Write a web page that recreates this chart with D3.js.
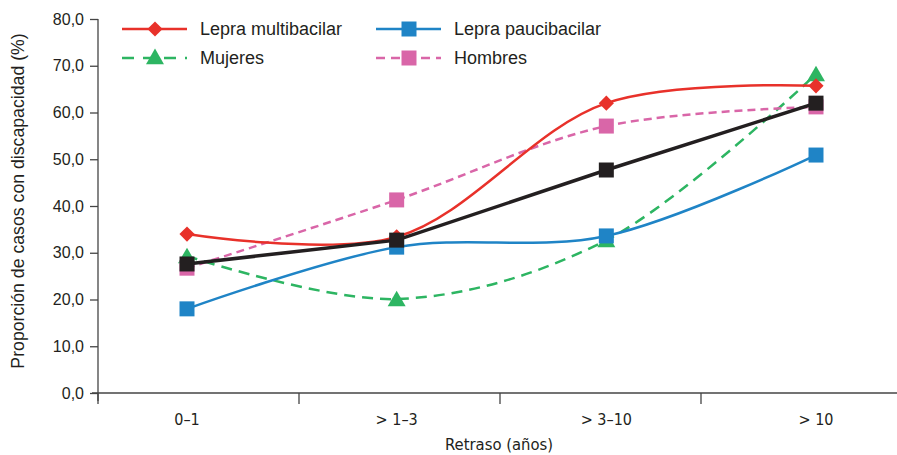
<!DOCTYPE html>
<html>
<head>
<meta charset="utf-8">
<script src="https://cdn.jsdelivr.net/npm/d3@7"></script>
<style>
  body { margin: 0; background: #fff; }
  text { fill: #231f20; }
</style>
</head>
<body>
<script>
// categories and series
var categories = ["0\u20131", "> 1\u20133", "> 3\u201310", "> 10"];
var yTicks = [0, 10, 20, 30, 40, 50, 60, 70, 80];
var multibacilar = [34.0, 33.4, 62.0, 65.7];
var paucibacilar = [18.0, 31.2, 33.6, 50.9];
var mujeres = [29.3, 20.1, 32.7, 68.2];
var hombres = [26.7, 41.3, 57.1, 61.2];
var total = [27.6, 32.7, 47.7, 62.0];

var W = 897, H = 455;
var svg = d3.select("body").append("svg").attr("width", W).attr("height", H);

var y = d3.scaleLinear().domain([0, 80]).range([393, 19]);
var xBand = d3.scaleBand().domain(categories).range([98, 902]);
var x = d3.scalePoint().domain(categories).range([187, 816]);

var fmt = function(d) { return d3.format(".1f")(d).replace(".", ","); };
var axisColor = "#444";
var condensed = "Liberation Sans Narrow, DejaVu Sans Condensed, sans-serif";

// y axis
var gy = svg.append("g").attr("transform", "translate(98,0)")
  .call(d3.axisLeft(y).tickValues(yTicks).tickSize(8).tickPadding(6).tickFormat(fmt));
gy.select(".domain").attr("d", "M0,19V401").attr("stroke", axisColor).attr("stroke-width", 1.3);
gy.selectAll(".tick line").attr("stroke", axisColor).attr("stroke-width", 1.3);
gy.selectAll(".tick text").style("font-family", "Liberation Sans, Arial, sans-serif")
  .style("font-size", "16px").attr("fill", "#231f20");

// x axis: boundary ticks, labels at point positions
var gx = svg.append("g").attr("transform", "translate(0,393)");
gx.append("line").attr("x1", 92).attr("x2", W).attr("stroke", axisColor).attr("stroke-width", 1.3);
gx.selectAll(".xt").data(categories).enter().append("line")
  .attr("x1", function(d) { return xBand(d); }).attr("x2", function(d) { return xBand(d); })
  .attr("y1", 0).attr("y2", 11).attr("stroke", axisColor).attr("stroke-width", 1.3);
gx.selectAll(".xl").data(categories).enter().append("text")
  .attr("x", function(d) { return x(d); }).attr("y", 32)
  .attr("text-anchor", "middle")
  .style("font-family", condensed)
  .style("font-size", "16px")
  .text(function(d) { return d; });

svg.append("text").attr("x", 499).attr("y", 450).attr("text-anchor", "middle")
  .style("font-family", condensed)
  .style("font-size", "16.5px").text("Retraso (a\u00f1os)");

svg.append("text").attr("transform", "translate(24,201) rotate(-90)").attr("text-anchor", "middle")
  .style("font-family", "Liberation Sans, Arial, sans-serif")
  .style("font-size", "17.7px").text("Proporci\u00f3n de casos con discapacidad (%)");

var series = [
  { name: "Mujeres", values: mujeres, color: "#2db562", width: 2.5, dash: "11,7", marker: "triangle", curve: true },
  { name: "Hombres", values: hombres, color: "#d966a8", width: 2.5, dash: "8,5", marker: "square", curve: true },
  { name: "Lepra paucibacilar", values: paucibacilar, color: "#1f84c6", width: 2.5, dash: null, marker: "square", curve: true },
  { name: "Lepra multibacilar", values: multibacilar, color: "#e8312a", width: 2.5, dash: null, marker: "diamond", curve: true },
  { name: "Total", values: total, color: "#231f20", width: 3.5, dash: null, marker: "square", curve: false }
];

var symbols = {
  triangle: d3.symbol().type(d3.symbolTriangle).size(140),
  square: d3.symbol().type(d3.symbolSquare).size(225),
  diamond: d3.symbol().type(d3.symbolSquare).size(115)
};
var rot = function(m) { return m === "diamond" ? " rotate(45)" : ""; };

series.forEach(function(s) {
  var line = d3.line()
    .x(function(d, i) { return x(categories[i]); })
    .y(function(d) { return y(d); })
    .curve(s.curve ? d3.curveCatmullRom.alpha(0.5) : d3.curveLinear);
  svg.append("path").datum(s.values).attr("d", line)
    .attr("fill", "none").attr("stroke", s.color).attr("stroke-width", s.width)
    .attr("stroke-dasharray", s.dash);
  svg.selectAll(null).data(s.values).enter().append("path")
    .attr("d", symbols[s.marker])
    .attr("transform", function(d, i) {
      var dy = s.marker === "triangle" ? 2 : 0;
      return "translate(" + x(categories[i]) + "," + (y(d) + dy) + ")" + rot(s.marker);
    })
    .attr("fill", s.color);
});

// legend
var legend = [
  { name: "Lepra multibacilar", color: "#e8312a", dash: null, marker: "diamond", lx: 122, ly: 29 },
  { name: "Lepra paucibacilar", color: "#1f84c6", dash: null, marker: "square", lx: 376, ly: 29 },
  { name: "Mujeres", color: "#2db562", dash: "12,9", marker: "triangle", lx: 122, ly: 58 },
  { name: "Hombres", color: "#d966a8", dash: "9,6", marker: "square", lx: 376, ly: 58 }
];
var lg = svg.append("g");
legend.forEach(function(l) {
  lg.append("line").attr("x1", l.lx).attr("x2", l.lx + 65).attr("y1", l.ly).attr("y2", l.ly)
    .attr("stroke", l.color).attr("stroke-width", 2.5).attr("stroke-dasharray", l.dash);
  lg.append("path").attr("d", symbols[l.marker])
    .attr("transform", "translate(" + (l.lx + 33) + "," + (l.ly + (l.marker === "triangle" ? 1 : 0)) + ")" + rot(l.marker))
    .attr("fill", l.color);
  lg.append("text").attr("x", l.lx + 78).attr("y", l.ly + 6)
    .style("font-family", "Liberation Sans, Arial, sans-serif").style("font-size", "18px")
    .text(l.name);
});
</script>
</body>
</html>
